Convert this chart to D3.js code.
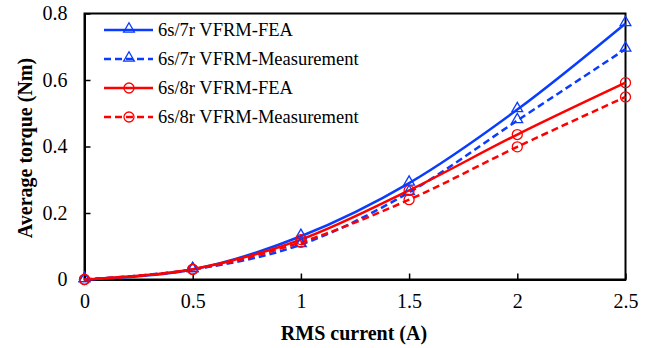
<!DOCTYPE html>
<html>
<head>
<meta charset="utf-8">
<script src="https://cdn.jsdelivr.net/npm/d3@7"></script>
<style>
  body { margin: 0; background: #fff; }
  svg text { font-family: "Liberation Serif", "DejaVu Serif", serif !important; }
</style>
</head>
<body>
<div class="boundary"></div>
<script>
// data
var current = [0, 0.5, 1, 1.5, 2, 2.5];
var fea7 = [0, 0.03, 0.13, 0.29, 0.511, 0.77];
var meas7 = [0, 0.03, 0.105, 0.262, 0.478, 0.693];
var fea8 = [0, 0.031, 0.12, 0.268, 0.436, 0.592];
var meas8 = [0, 0.03, 0.112, 0.24, 0.399, 0.549];
var xTicks = [0, 0.5, 1, 1.5, 2, 2.5];
var yTicks = [0, 0.2, 0.4, 0.6, 0.8];
var seriesNames = ["6s/7r VFRM-FEA", "6s/7r VFRM-Measurement", "6s/8r VFRM-FEA", "6s/8r VFRM-Measurement"];

var width = 665, height = 348;
var svg = d3.select(".boundary").append("svg")
            .attr("width", width).attr("height", height)
            .attr("font-family", "Liberation Serif");

var x = d3.scaleLinear().domain([0, 2.5]).range([84.5, 625.5]);
var y = d3.scaleLinear().domain([0, 0.8]).range([279.5, 13.5]);

var blue = "#0a3cff", red = "#ff0000";
var series = [
  {name: seriesNames[0], values: fea7, color: blue, dash: null, mark: "tri"},
  {name: seriesNames[1], values: meas7, color: blue, dash: "7,4", mark: "tri"},
  {name: seriesNames[2], values: fea8, color: red, dash: null, mark: "circ"},
  {name: seriesNames[3], values: meas8, color: red, dash: "7,4", mark: "circ"}
];

// frame
svg.append("rect").attr("x", x(0)).attr("y", y(0.8))
   .attr("width", x(2.5) - x(0)).attr("height", y(0) - y(0.8))
   .attr("fill", "none").attr("stroke", "#000").attr("stroke-width", 2);

// axes, ticks inward
svg.append("g").attr("transform", "translate(0," + y(0) + ")")
   .call(d3.axisBottom(x).tickValues(xTicks).tickSizeInner(-6).tickSizeOuter(0).tickPadding(14)
         .tickFormat(function(d){ return d3.format("")(d); }))
   .call(function(g){
     g.attr("font-family", null).attr("font-size", null);
     g.select(".domain").attr("stroke-width", 2);
     g.selectAll(".tick line").attr("stroke-width", 1.5);
     g.selectAll("text").attr("font-size", 20).attr("fill", "#000");
   });
svg.append("g").attr("transform", "translate(" + x(0) + ",0)")
   .call(d3.axisLeft(y).tickValues(yTicks).tickSizeInner(-6).tickSizeOuter(0).tickPadding(17)
         .tickFormat(function(d){ return d3.format("")(d); }))
   .call(function(g){
     g.attr("font-family", null).attr("font-size", null);
     g.select(".domain").attr("stroke-width", 2);
     g.selectAll(".tick line").attr("stroke-width", 1.5);
     g.selectAll("text").attr("font-size", 20).attr("fill", "#000");
   });

// titles
svg.append("text").attr("x", 354).attr("y", 340).attr("text-anchor", "middle")
   .attr("font-size", 20).attr("font-weight", "bold").text("RMS current (A)");
svg.append("text").attr("transform", "translate(32,148) rotate(-90)")
   .attr("text-anchor", "middle").attr("font-size", 20).attr("font-weight", "bold")
   .text("Average torque (Nm)");

var line = d3.line().curve(d3.curveCatmullRom.alpha(0))
             .x(function(d, i){ return x(current[i]); })
             .y(function(d){ return y(d); });

function marker(g, kind, cx, cy, color) {
  if (kind === "tri") {
    g.append("path").attr("d", d3.symbol(d3.symbolTriangle, 50)())
     .attr("transform", "translate(" + cx + "," + (cy - 1) + ")")
     .attr("fill", "none").attr("stroke", color).attr("stroke-width", 1.3);
  } else {
    g.append("circle").attr("cx", cx).attr("cy", cy).attr("r", 5)
     .attr("fill", "none").attr("stroke", color).attr("stroke-width", 1.3);
  }
}

var plot = svg.append("g");
series.forEach(function(s){
  plot.append("path").datum(s.values).attr("d", line)
      .attr("fill", "none").attr("stroke", s.color).attr("stroke-width", 2.5)
      .attr("stroke-dasharray", s.dash);
});
series.forEach(function(s){
  var g = plot.append("g");
  s.values.forEach(function(v, i){ marker(g, s.mark, x(current[i]), y(v), s.color); });
});

// legend
var legend = svg.append("g").attr("transform", "translate(104,30)");
series.forEach(function(s, i){
  var row = legend.append("g").attr("transform", "translate(0," + i * 29 + ")");
  row.append("line").attr("x1", 0).attr("x2", 49).attr("y1", 0).attr("y2", 0)
     .attr("stroke", s.color).attr("stroke-width", 2.5).attr("stroke-dasharray", s.dash);
  marker(row, s.mark, 25, 0, s.color);
  row.append("text").attr("x", 54).attr("y", 6).attr("font-size", 18.5).text(s.name);
});
</script>
</body>
</html>
